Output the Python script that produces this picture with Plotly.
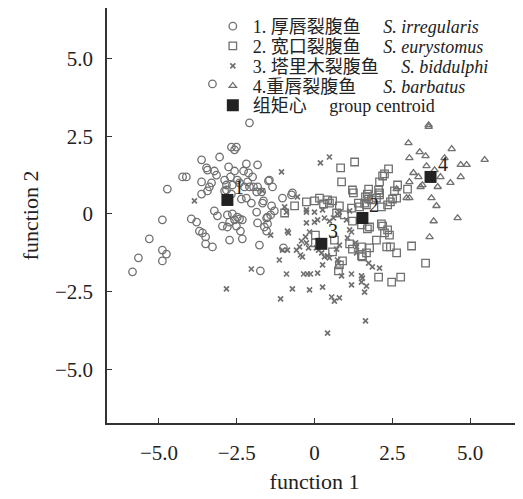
import plotly.graph_objects as go

# ---- data ----
g1_x = [-2.09,-3.28,-2.67,-2.51,-2.57,-3.63,-3.05,-3.47,-3.44,-3.22,-3.15,-2.76,-2.19,-1.83,-2.57,-2.28,-2.12,-1.99,-4.24,-4.12,
        -3.63,-3.31,-2.89,-2.70,-2.48,-2.83,-2.64,-2.41,-1.48,-4.73,-3.38,-3.44,-3.63,-2.89,-2.67,-2.25,-2.09,-1.96,-1.86,-1.70,
        -2.35,-2.19,-2.03,-1.67,-1.38,-1.29,-1.03,-0.71,-0.74,-1.86,-3.22,-3.12,-2.80,-2.64,-2.48,-2.41,-2.32,-2.57,-2.73,-3.96,
        -3.79,-4.89,-1.54,-1.51,-1.61,-1.83,-2.96,-2.80,-2.51,-3.70,-3.60,-3.50,-1.54,-2.73,-2.32,-3.50,-3.28,-1.77,-1.00,-5.31,
        -5.66,-4.89,-4.76,-4.89,-5.85,-1.74,-1.41,-2.83,-2.15,-1.83,-1.45,-1.35,-1.64,-1.51,-2.38]
g1_y = [2.93,4.18,2.15,2.15,2.06,1.74,1.83,1.48,1.41,1.38,1.25,1.51,1.61,1.58,1.38,1.38,1.32,1.19,1.19,1.19,
        1.03,1.00,1.09,1.19,1.09,0.93,0.93,1.00,1.06,0.80,0.87,0.74,0.64,0.74,0.64,0.87,0.87,0.87,0.71,0.71,
        0.48,0.51,0.35,0.35,0.26,0.10,0.51,0.68,0.61,0.06,0.10,-0.06,-0.03,0.00,-0.10,-0.16,-0.19,-0.19,-0.26,-0.16,
        -0.26,-0.19,-0.13,-0.32,-0.42,-0.29,-0.39,-0.42,-0.39,-0.55,-0.61,-0.74,-0.55,-0.84,-0.80,-0.96,-1.06,-1.00,-1.09,-0.80,
        -1.41,-1.16,-1.29,-1.51,-1.86,-1.83,-0.03,0.77,1.03,0.87,1.09,0.87,0.42,-0.10,-0.55]

g2_x = [1.29,0.84,0.87,2.38,2.25,2.19,2.09,2.06,2.09,1.22,1.25,1.74,1.70,1.64,1.74,2.67,2.57,2.64,2.51,2.44,
        2.99,-0.26,0.00,0.16,0.42,0.58,0.48,0.29,-0.64,-0.96,0.80,0.71,1.19,1.45,1.61,1.83,1.99,2.09,2.35,2.15,
        0.96,1.22,1.51,1.70,1.77,2.15,2.19,2.35,2.25,2.41,0.03,0.64,0.58,1.13,1.51,1.77,1.99,2.32,2.44,2.64,
        3.12,1.51,1.67,0.90,0.77,3.57,2.06,2.48,2.77,1.22,1.54,0.80,0.03,1.67,1.41]
g2_y = [1.67,1.48,1.03,1.45,1.29,1.22,1.03,0.77,0.68,0.77,0.68,0.80,0.64,0.55,0.48,0.93,0.74,0.51,0.48,0.39,
        0.80,0.39,0.42,0.51,0.45,0.42,0.35,0.32,0.26,0.03,0.26,0.03,0.19,0.23,0.35,0.45,0.51,0.61,0.29,0.23,
        -0.03,-0.23,-0.35,-0.48,-0.42,-0.32,-0.39,-0.51,-0.61,-0.68,-0.68,-0.84,-1.22,-0.96,-1.06,-1.09,-0.84,-1.06,-1.06,-1.25,
        -1.03,-1.35,-1.25,-1.51,-1.83,-1.58,-2.03,-2.19,-2.03,-1.13,-1.38,-1.64,-0.93,0.29,0.35]

g3_x = [-1.06,0.19,0.48,-1.67,-3.86,-0.55,-0.96,-0.90,-0.26,-0.26,0.00,0.26,0.10,0.32,0.48,0.61,-0.26,0.00,0.80,0.74,
        1.13,1.03,-0.87,-0.84,-0.16,-0.29,-0.42,-1.41,-0.48,-0.45,-0.39,-0.58,-0.19,-0.26,0.06,0.13,0.23,0.42,0.48,0.32,
        0.71,0.80,1.06,1.13,1.19,1.35,1.35,0.74,0.77,0.26,-1.03,-0.87,-1.13,-2.03,-0.90,-0.35,-0.23,-0.13,0.10,0.87,
        1.19,1.51,1.54,1.86,2.09,1.74,0.26,1.19,1.51,1.67,1.61,-0.71,-0.16,-1.09,-2.83,0.55,0.64,0.80,1.64,0.42,1.32]
g3_y = [1.35,1.64,1.83,0.74,0.42,0.55,0.23,0.06,0.13,0.06,0.06,0.13,-0.19,-0.13,-0.23,-0.13,-0.29,-0.26,0.06,0.00,
        0.10,-0.19,-0.55,-0.61,-0.58,-0.74,-0.87,-0.68,-1.06,-1.32,-1.38,-1.16,-1.09,-0.93,-1.09,-1.16,-1.25,-1.35,-1.41,-1.38,
        -1.13,-1.00,-0.77,-0.51,-0.58,-1.06,-1.25,-1.48,-1.58,-1.64,-1.16,-1.16,-1.48,-1.77,-1.93,-1.93,-1.93,-1.93,-1.90,-1.99,
        -1.93,-1.99,-2.06,-1.70,-1.74,-1.58,-2.35,-2.28,-2.19,-2.32,-2.51,-2.41,-2.44,-2.73,-2.41,-2.67,-2.80,-2.70,-3.44,-3.83,-0.93]

g4_x = [3.67,3.67,3.02,4.41,3.38,3.57,3.05,4.18,5.47,4.70,4.89,3.60,3.18,3.86,4.05,3.34,4.70,3.05,4.37,3.47,
        3.41,3.96,2.64,2.96,3.05,3.76,3.92,4.60,3.83,3.70]
g4_y = [2.86,2.80,2.28,2.09,1.99,1.86,1.80,1.80,1.74,1.58,1.58,1.54,1.32,1.41,1.19,1.19,1.19,1.03,1.00,0.93,
        0.87,0.87,0.80,0.51,0.51,0.51,0.26,-0.13,-0.23,-0.74]

centroid_x = [-2.80, 1.54, 0.22, 3.73]
centroid_y = [0.45, -0.13, -0.96, 1.19]
centroid_labels = ["1", "2", "3", "4"]

series_names = [
    "1. 厚唇裂腹鱼\u2003\u00a0<i>S. irregularis</i>",
    "2. 宽口裂腹鱼\u2003\u00a0<i>S. eurystomus</i>",
    "3. 塔里木裂腹鱼\u2003\u00a0<i>S. biddulphi</i>",
    "4.重唇裂腹鱼\u2003\u00a0\u00a0<i>S. barbatus</i>",
    "组矩心\u2003\u00a0group centroid",
]
tick_vals = [-5, -2.5, 0, 2.5, 5]
tick_text = ["\u22125.0", "\u22122.5", "0", "2.5", "5.0"]

# ---- styling ----
GRAY = "#707070"
DARK = "#222222"
SERIF = "Liberation Serif, Times New Roman, Noto Sans CJK SC, serif"

fig = go.Figure()
groups = [
    (g1_x, g1_y, "circle-open", 7.5, 1.3),
    (g2_x, g2_y, "square-open", 7.5, 1.3),
    (g3_x, g3_y, "x-thin-open", 5, 1.7),
    (g4_x, g4_y, "triangle-up-open", 6.5, 1.3),
]
legend_ids = ["legend", "legend2", "legend3", "legend4", "legend5"]
for i, (xs, ys, sym, sz, lw) in enumerate(groups):
    fig.add_trace(go.Scatter(
        x=xs, y=ys, mode="markers", name=series_names[i], legend=legend_ids[i],
        marker=dict(symbol=sym, size=sz, color=GRAY, line=dict(color=GRAY, width=lw)),
    ))
fig.add_trace(go.Scatter(
    x=centroid_x, y=centroid_y, mode="markers", name=series_names[4], legend=legend_ids[4],
    marker=dict(symbol="square", size=12, color=DARK, line=dict(width=0)),
))

for cx, cy, lab in zip(centroid_x, centroid_y, centroid_labels):
    fig.add_annotation(x=cx, y=cy, text=lab, showarrow=False, xshift=12, yshift=13,
                       font=dict(family=SERIF, size=20, color=DARK))

axis_common = dict(
    tickvals=tick_vals, ticktext=tick_text, ticks="inside", ticklen=5, tickwidth=1.2,
    tickcolor="#333333", showline=True, linecolor="#333333", linewidth=1.5, mirror=True,
    showgrid=False, zeroline=False, automargin=False,
    tickfont=dict(family=SERIF, size=21, color=DARK),
)

leg_y = [0.956, 0.908, 0.860, 0.812, 0.765]
legend_layout = {}
for lid, ly in zip(legend_ids, leg_y):
    legend_layout[lid] = dict(
        x=0.255, xanchor="left", y=ly, yanchor="middle", bgcolor="rgba(0,0,0,0)",
        font=dict(family=SERIF, size=18, color=DARK), borderwidth=0,
    )

# the page body adds an 8 px offset, so the margins are shifted to compensate
fig.update_layout(
    template="none",
    width=523, height=499,
    margin=dict(l=99, r=9, t=0, b=84, pad=0),
    plot_bgcolor="white", paper_bgcolor="white",
    xaxis=dict(range=[-6.67, 6.67], ticklabelstandoff=10,
               title=dict(text="function 1", font=dict(family=SERIF, size=22, color=DARK), standoff=10), **axis_common),
    yaxis=dict(range=[-6.72, 6.62], ticklabelstandoff=8,
               title=dict(text="function 2", font=dict(family=SERIF, size=22, color=DARK), standoff=10), **axis_common),
    showlegend=True,
    **legend_layout,
)

fig.write_html("out.html")
